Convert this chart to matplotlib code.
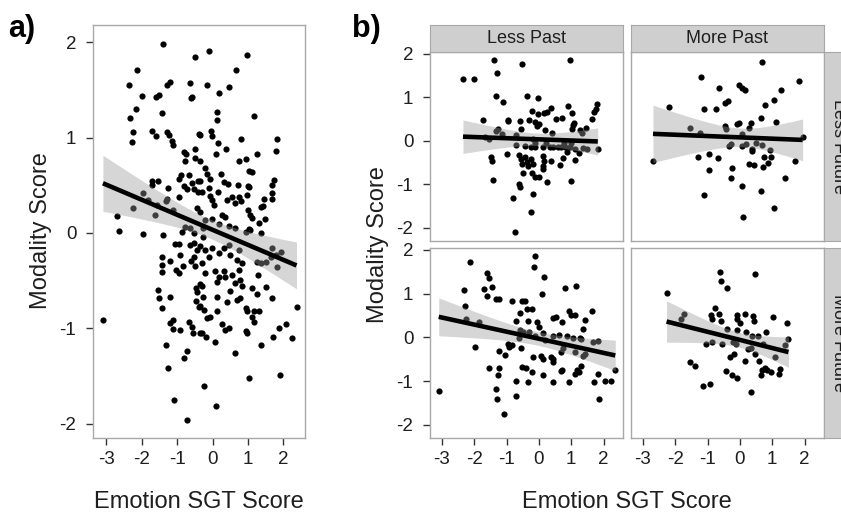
import numpy as np
import matplotlib
matplotlib.use("Agg")
import matplotlib.pyplot as plt

plt.rcParams['font.family'] = ['Liberation Sans', 'DejaVu Sans']

# ---------------------------------------------------------------- data
x_ticks = [-3, -2, -1, 0, 1, 2]
y_ticks = [-2, -1, 0, 1, 2]
past_levels = ["Less Past", "More Past"]
future_levels = ["Less Future", "More Future"]
x_label = "Emotion SGT Score"
y_label = "Modality Score"

# (Emotion SGT score, modality score) for all participants
overall_points = [
    (-1.41, 1.98), (-0.51, 1.84), (-2.14, 1.71), (-2.35, 1.55), (-1.99, 1.44), (-1.30, 1.55),
    (-1.20, 1.58), (-1.60, 1.43), (-1.52, 1.45), (-0.63, 1.57), (-0.58, 1.43), (-0.61, 1.41),
    (-2.17, 1.30), (-2.33, 1.21), (-1.44, 1.26), (-2.26, 1.06), (-2.28, 0.95), (-1.70, 1.07),
    (-1.61, 1.02), (-1.30, 1.06), (-1.22, 1.03), (-1.14, 0.96), (-1.11, 0.92), (-0.39, 1.04),
    (-0.82, 0.85), (-0.75, 0.83), (-0.49, 0.88), (-0.77, 0.75), (-0.49, 0.79), (-0.37, 0.75),
    (-0.90, 0.61), (-0.94, 0.57), (-0.67, 0.61), (-1.71, 0.54), (-1.71, 0.50), (-1.55, 0.54),
    (-1.26, 0.47), (-0.80, 0.49), (-0.71, 0.46), (-0.59, 0.52), (-0.54, 0.46), (-0.41, 0.54),
    (-0.95, 0.38), (-0.41, 0.43), (-0.45, 0.26), (-1.28, 0.36), (-1.32, 0.33), (-1.98, 0.42),
    (-1.82, 0.35), (-1.58, 0.29), (-2.26, 0.26), (-1.63, 0.19), (-1.13, 0.24), (-2.70, 0.18),
    (-2.64, 0.02), (-1.96, -0.01), (-1.39, -0.02), (-0.87, 0.01), (-0.63, 0.05), (-0.54, 0.00),
    (-0.78, 0.06),
    (-0.09, 1.91), (0.98, 1.87), (0.67, 1.71), (-0.15, 1.55), (0.18, 1.47), (0.45, 1.53),
    (0.12, 1.27), (0.12, 1.18), (1.16, 1.23), (-0.35, 1.03), (-0.05, 1.07), (-0.02, 1.02),
    (0.14, 0.94), (0.09, 0.83), (0.39, 0.88), (0.81, 0.99), (1.83, 0.98), (1.80, 0.86),
    (1.26, 0.83), (0.75, 0.75), (0.93, 0.78), (1.02, 0.65), (1.12, 0.64), (0.25, 0.62),
    (-0.21, 0.68), (-0.16, 0.62), (-0.07, 0.57), (-0.11, 0.47), (-0.30, 0.43), (-0.35, 0.54),
    (0.32, 0.53), (0.43, 0.51), (0.72, 0.50), (1.00, 0.49), (1.04, 0.48), (1.73, 0.55),
    (1.69, 0.50), (1.67, 0.42), (1.67, 0.36), (1.46, 0.36), (0.15, 0.43), (-0.07, 0.39),
    (-0.02, 0.35), (0.03, 0.29), (0.41, 0.35), (0.55, 0.38), (0.62, 0.31), (0.74, 0.38),
    (0.81, 0.34), (0.97, 0.40), (1.38, 0.27), (1.42, 0.28), (1.00, 0.24), (1.07, 0.19),
    (1.12, 0.16), (1.31, 0.10), (1.47, 0.15), (0.27, 0.19), (0.34, 0.17), (-0.02, 0.15),
    (-0.21, 0.14), (-0.35, 0.22), (0.45, 0.07), (0.64, 0.05), (1.02, 0.04), (0.17, 0.09),
    (-0.26, 0.05),
    (-1.06, -0.12), (-0.94, -0.12), (-0.63, -0.13), (-0.54, -0.11), (-0.92, -0.23), (-1.42, -0.25),
    (-1.42, -0.34), (-1.20, -0.29), (-1.42, -0.41), (-1.03, -0.39), (-0.94, -0.42), (-0.84, -0.35),
    (-0.62, -0.29), (-0.49, -0.35), (-0.54, -0.25), (-0.45, -0.18), (-1.53, -0.60), (-1.51, -0.68),
    (-1.20, -0.67), (-1.42, -0.79), (-0.46, -0.58), (-0.45, -0.62), (-0.48, -0.71), (-0.39, -0.78),
    (-0.35, -0.54), (-3.10, -0.91), (-1.20, -0.94), (-1.11, -0.91), (-1.11, -1.01), (-0.92, -1.02),
    (-0.68, -0.93), (-0.59, -0.99), (-0.56, -1.05), (-0.35, -1.05), (-1.31, -1.17), (-0.71, -1.24),
    (-0.80, -1.31), (-1.25, -1.42), (-1.09, -1.75), (-0.72, -1.96),
    (-0.26, -0.04), (-0.35, -0.14), (-0.21, -0.18), (-0.02, -0.16), (-0.11, -0.25), (0.17, -0.21),
    (0.31, -0.16), (0.45, -0.13), (0.50, -0.23), (0.74, -0.18), (0.69, -0.28), (0.83, -0.32),
    (0.74, -0.39), (0.93, 0.01), (1.07, 0.03), (1.36, 0.00), (-0.30, -0.32), (-0.21, -0.42),
    (0.08, -0.40), (0.17, -0.46), (0.12, -0.51), (0.31, -0.40), (0.36, -0.46), (0.55, -0.44),
    (0.62, -0.53), (0.78, -0.49), (0.83, -0.56), (0.50, -0.61), (0.41, -0.72), (0.69, -0.70),
    (0.78, -0.68), (0.12, -0.67), (-0.30, -0.56), (-0.26, -0.67), (-0.35, -0.77), (-0.23, -0.81),
    (-0.16, -0.89), (-0.07, -0.88), (0.12, -0.82), (0.93, -0.79), (0.96, -0.82), (1.17, -0.82),
    (1.12, -0.88), (1.17, -0.93), (1.31, -0.82), (1.12, -0.58), (1.26, -0.64), (1.29, -0.44),
    (1.50, -0.57), (1.67, -0.68), (2.37, -0.78), (0.27, -0.96), (0.36, -1.02), (0.45, -1.00),
    (-0.30, -1.05), (-0.19, -1.09), (0.06, -1.14), (0.98, -1.05), (0.95, -1.03), (1.88, -1.00),
    (2.08, -0.96), (1.70, -1.09), (2.25, -1.10), (1.38, -1.17), (0.62, -1.26), (1.04, -1.52),
    (1.89, -1.49), (-0.23, -1.60), (0.09, -1.81), (1.26, -0.30), (1.36, -0.32), (1.50, -0.31),
    (1.64, -0.25), (1.69, -0.16), (1.92, -0.20), (1.83, -0.36), (1.78, -0.23),
]

less_past_less_future = [
    (-1.40, 1.85), (-0.52, 1.76), (0.95, 1.85), (-2.35, 1.42), (-2.00, 1.41), (-1.30, 1.56),
    (-1.32, 1.04), (-1.10, 0.90), (-0.37, 1.02), (-0.04, 0.98), (-1.72, 0.47), (-0.97, 0.49),
    (-0.96, 0.46), (-0.60, 0.46), (-0.31, 0.48), (-0.22, 0.69), (-0.03, 0.61), (-0.11, 0.44),
    (-0.05, 0.34), (0.00, 0.38), (0.15, 0.63), (0.24, 0.66), (0.38, 0.76), (0.54, 0.50),
    (0.71, 0.53), (0.90, 0.79), (1.02, 0.63), (1.07, 0.42), (1.02, 0.27), (1.06, 0.36),
    (1.80, 0.84), (1.75, 0.73), (1.70, 0.66), (1.64, 0.51), (1.46, 0.29), (1.26, 0.24),
    (1.34, 0.18), (-0.55, 0.27), (-1.27, 0.27), (-1.32, 0.22), (-1.14, 0.15), (-0.72, 0.13),
    (-1.66, 0.08), (-1.53, 0.04), (0.18, 0.24), (0.41, 0.19), (-0.18, 0.04), (-0.72, -0.09),
    (-0.44, -0.11), (-0.24, -0.13), (-0.11, -0.15), (0.12, -0.14), (0.33, -0.14), (0.43, -0.15),
    (0.59, -0.14), (0.69, -0.13), (0.81, -0.15), (0.95, -0.15), (1.10, -0.18), (1.36, -0.17),
    (1.49, -0.18), (1.82, -0.19), (-0.13, -0.04), (0.23, -0.04), (0.79, -0.05), (1.00, -0.04),
    (-1.47, -0.38), (-1.45, -0.46), (-0.98, -0.31), (-0.63, -0.33), (-0.57, -0.42), (-0.44, -0.38),
    (-0.36, -0.48), (-0.24, -0.42), (-0.51, -0.53), (-0.34, -0.57), (-0.19, -0.53), (0.12, -0.34),
    (0.15, -0.46), (0.12, -0.57), (0.12, -0.65), (0.38, -0.47), (0.66, -0.56), (0.74, -0.40),
    (0.88, -0.25), (1.13, -0.44), (1.24, -0.28), (-0.49, -0.74), (-0.22, -0.73), (-0.13, -0.84),
    (0.00, -0.84), (0.25, -0.95), (0.98, -0.92), (-1.43, -0.90), (-0.62, -0.99), (-0.59, -1.05),
    (-0.81, -1.32), (-0.19, -1.23), (-0.25, -1.63), (-0.73, -2.10),
]

more_past_less_future = [
    (0.69, 1.81), (-1.20, 1.46), (1.82, 1.37), (-0.64, 1.21), (-0.04, 1.28), (0.05, 1.22),
    (0.16, 1.17), (1.28, 1.17), (-2.18, 0.77), (-1.12, 0.72), (-0.75, 0.73), (-0.47, 0.88),
    (-0.36, 0.92), (0.77, 0.82), (1.06, 0.93), (0.66, 0.52), (1.11, 0.44), (-0.47, 0.34),
    (-0.42, 0.27), (-0.10, 0.38), (-0.03, 0.40), (0.33, 0.40), (0.28, 0.29), (-1.56, 0.29),
    (-1.25, 0.19), (0.05, 0.15), (-0.34, -0.11), (-0.29, -0.08), (0.05, -0.11), (0.19, -0.08),
    (0.36, -0.18), (0.36, -0.23), (0.50, -0.06), (0.68, -0.10), (0.94, -0.21), (-2.69, -0.46),
    (-1.30, -0.38), (-0.95, -0.31), (-0.67, -0.39), (-0.97, -0.66), (-0.24, -0.63), (0.29, -0.53),
    (0.42, -0.56), (0.71, -0.60), (0.75, -0.37), (0.86, -0.50), (0.96, -0.37), (1.69, -0.47),
    (-0.27, -0.86), (0.07, -1.03), (1.40, -0.85), (0.65, -1.16), (-1.10, -1.24), (1.06, -1.54),
    (0.10, -1.76), (1.94, 0.08),
]

less_past_more_future = [
    (-0.13, 1.85), (-0.16, 1.60), (-2.14, 1.73), (-1.61, 1.48), (-1.53, 1.35), (-2.33, 1.07),
    (-1.71, 1.11), (-1.61, 0.95), (-1.44, 1.15), (-1.32, 0.87), (-1.23, 0.87), (0.16, 1.37),
    (0.80, 1.12), (1.14, 1.18), (0.08, 0.98), (-2.28, 0.72), (-0.82, 0.83), (-0.53, 0.84),
    (-0.44, 0.82), (-0.36, 0.65), (-0.21, 0.65), (-0.58, 0.56), (-0.72, 0.37), (-0.34, 0.38),
    (-0.07, 0.36), (0.00, 0.24), (0.12, 0.09), (0.43, 0.44), (0.52, 0.46), (0.72, 0.36),
    (0.94, 0.59), (1.00, 0.51), (1.11, 0.52), (1.65, 0.59), (1.41, 0.40), (1.35, 0.19),
    (-1.84, 0.36), (-2.27, 0.42), (-1.98, -0.23), (-0.60, 0.17), (-0.49, 0.11), (-0.32, 0.13),
    (-0.62, -0.02), (-0.13, 0.02), (0.18, -0.06), (0.43, 0.04), (0.61, 0.05), (0.88, 0.02),
    (1.05, -0.01), (1.26, -0.02), (1.31, -0.05), (1.67, -0.10), (1.82, -0.08), (-0.96, -0.15),
    (-0.93, -0.21), (-0.84, -0.18), (-0.57, -0.25), (-1.23, -0.31), (-1.04, -0.40), (0.07, -0.42),
    (0.12, -0.50), (0.38, -0.44), (0.43, -0.56), (0.45, -0.50), (0.69, -0.33), (0.74, -0.25),
    (1.13, -0.34), (1.41, -0.39), (1.37, -0.42), (-0.18, -0.44), (-0.51, -0.67), (-0.41, -0.69),
    (-0.22, -0.79), (0.12, -0.85), (-1.53, -0.71), (-1.23, -0.69), (-1.26, -0.85), (0.72, -0.74),
    (0.69, -0.78), (1.18, -0.75), (1.24, -0.80), (1.29, -0.66), (1.10, -0.84), (1.84, -0.83),
    (2.36, -0.75), (-0.71, -1.00), (-0.34, -1.01), (0.44, -1.02), (0.92, -1.02), (1.69, -1.02),
    (2.04, -1.00), (2.22, -1.00), (-3.10, -1.22), (-1.33, -1.19), (-1.29, -1.40), (-0.72, -1.35),
    (1.87, -1.40), (-1.08, -1.76),
]

more_past_more_future = [
    (-0.63, 1.50), (0.47, 1.44), (-0.58, 1.29), (-0.40, 1.12), (-2.27, 1.02), (-0.78, 0.66),
    (-0.89, 0.50), (-0.87, 0.42), (-0.65, 0.53), (-0.59, 0.37), (-0.08, 0.50), (-0.08, 0.42),
    (0.00, 0.33), (0.15, 0.53), (0.41, 0.48), (0.42, 0.37), (1.02, 0.46), (1.47, 0.33),
    (-1.74, 0.53), (-1.82, 0.42), (-0.39, 0.19), (-0.10, 0.17), (0.19, 0.11), (0.36, 0.04),
    (0.57, 0.04), (0.81, 0.11), (0.71, -0.16), (1.50, -0.04), (1.38, -0.18), (-0.21, -0.11),
    (-0.13, -0.16), (-0.86, -0.11), (-1.06, -0.16), (-0.55, -0.15), (0.26, -0.27), (0.35, -0.25),
    (0.48, -0.37), (-0.19, -0.37), (-0.31, -0.46), (0.15, -0.53), (0.60, -0.54), (1.07, -0.46),
    (-1.55, -0.56), (-1.40, -0.66), (0.78, -0.71), (0.68, -0.75), (0.66, -0.85), (0.83, -0.74),
    (0.96, -0.80), (1.25, -0.73), (1.21, -0.84), (-0.44, -0.77), (-0.26, -0.86), (-0.08, -0.92),
    (-1.13, -1.11), (-0.92, -1.06), (0.34, -1.25),
]

facet_points = {
    (0, 0): less_past_less_future,
    (0, 1): more_past_less_future,
    (1, 0): less_past_more_future,
    (1, 1): more_past_more_future,
}

# ---------------------------------------------------------------- helpers
W, H = 841, 513
fig = plt.figure(figsize=(W / 100, H / 100), dpi=100)

TEXT = '#1e1e1e'
FRAME = '#a8a8a8'


def rect(x0, y0, x1, y1):
    """Pixel box (top-left origin) -> figure fraction rect."""
    return [x0 / W, 1 - y1 / H, (x1 - x0) / W, (y1 - y0) / H]


def t975(df):
    return 1.96 + 2.37 / df


def scatter_with_fit(ax, pts):
    arr = np.asarray(pts, dtype=float)
    x, y = arr[:, 0], arr[:, 1]
    ax.scatter(x, y, s=20, color='black', linewidths=0, zorder=2)
    n = len(x)
    xm, ym = x.mean(), y.mean()
    sxx = ((x - xm) ** 2).sum()
    b1 = ((x - xm) * (y - ym)).sum() / sxx
    b0 = ym - b1 * xm
    s = np.sqrt(((y - b0 - b1 * x) ** 2).sum() / (n - 2))
    xs = np.linspace(x.min(), x.max(), 100)
    fit = b0 + b1 * xs
    se = s * np.sqrt(1 / n + (xs - xm) ** 2 / sxx)
    q = t975(n - 2)
    ax.fill_between(xs, fit - q * se, fit + q * se, color='#999999', alpha=0.4,
                    linewidth=0, zorder=3)
    ax.plot(xs, fit, color='black', lw=3.3, zorder=4, solid_capstyle='butt')


def style(ax, show_x=True, show_y=True):
    for sp in ax.spines.values():
        sp.set_color(FRAME)
        sp.set_linewidth(1.0)
    ax.set_xticks(x_ticks if show_x else [])
    ax.set_yticks(y_ticks if show_y else [])
    ax.tick_params(axis='both', length=5, width=1, color='#333333',
                   labelsize=13.5, labelcolor=TEXT)
    ax.tick_params(axis='x', pad=4)
    ax.tick_params(axis='y', pad=7)
    ax.set_xticklabels([str(v) for v in x_ticks] if show_x else [])
    ax.set_yticklabels([str(v) for v in y_ticks] if show_y else [])


# ---------------------------------------------------------------- panel a
ax_a = fig.add_axes(rect(93, 25, 305, 438))
scatter_with_fit(ax_a, overall_points)
ax_a.set_xlim(-3.38, 2.61)
ax_a.set_ylim(-2.15, 2.18)
style(ax_a)
fig.text(41 / W, 1 - 231 / H, y_label, rotation=90, ha='center', va='center',
         fontsize=17, color=TEXT)
fig.text(199 / W, 1 - 508 / H, x_label, ha='center', va='baseline',
         fontsize=17, color=TEXT)
fig.text(8 / W, 1 - 37 / H, "a)", ha='left', va='baseline', fontsize=22,
         fontweight='bold', color='black')

# ---------------------------------------------------------------- panel b
col_x = [(430, 623), (631, 824)]
row_y = [(52, 241), (248, 438)]
for (r, c), pts in facet_points.items():
    x0, x1 = col_x[c]
    y0, y1 = row_y[r]
    ax = fig.add_axes(rect(x0, y0, x1, y1))
    scatter_with_fit(ax, pts)
    ax.set_xlim(-3.37, 2.6)
    ax.set_ylim(-2.3, 2.04)
    style(ax, show_x=(r == 1), show_y=(c == 0))

STRIP_FILL = '#cfcfcf'
for c, label in enumerate(past_levels):
    x0, x1 = col_x[c]
    sax = fig.add_axes(rect(x0, 25, x1, 52))
    sax.set_facecolor(STRIP_FILL)
    sax.set_xticks([]); sax.set_yticks([])
    for sp in sax.spines.values():
        sp.set_color(FRAME)
    sax.text(0.5, 0.5, label, ha='center', va='center', fontsize=13,
             color=TEXT, transform=sax.transAxes)

for r, label in enumerate(future_levels):
    y0, y1 = row_y[r]
    sax = fig.add_axes(rect(824, y0, 852, y1))
    sax.set_facecolor(STRIP_FILL)
    sax.set_xticks([]); sax.set_yticks([])
    for sp in sax.spines.values():
        sp.set_color(FRAME)
    sax.text(0.5, 0.5, label, ha='center', va='center', fontsize=13,
             rotation=-90, color=TEXT, transform=sax.transAxes)

fig.text(378 / W, 1 - 245 / H, y_label, rotation=90, ha='center', va='center',
         fontsize=17, color=TEXT)
fig.text(627 / W, 1 - 508 / H, x_label, ha='center', va='baseline',
         fontsize=17, color=TEXT)
fig.text(352 / W, 1 - 37 / H, "b)", ha='left', va='baseline', fontsize=22,
         fontweight='bold', color='black')

fig.savefig("out.png", dpi=100, facecolor='white')
